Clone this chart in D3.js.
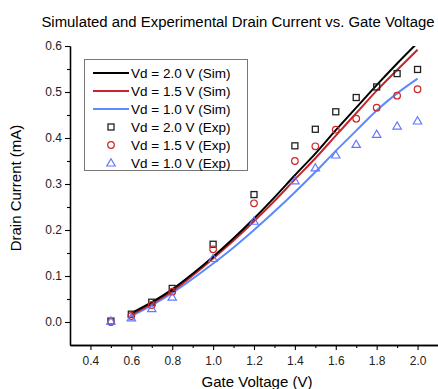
<!DOCTYPE html>
<html>
<head>
<meta charset="utf-8">
<script src="https://cdn.jsdelivr.net/npm/d3@7"></script>
<style>
  body { margin: 0; background: #fff; }
  svg { font-family: "Liberation Sans", Arial, sans-serif; }
</style>
</head>
<body>
<svg id="chart" width="438" height="389"></svg>
<script>
// simulated curves (Vg from 0.6 to 2.0)
const simVg = [0.6, 0.7, 0.8, 0.9, 1.0, 1.1, 1.2, 1.3, 1.4, 1.5, 1.6, 1.7, 1.8, 1.9, 2.0];
const sim20 = [0.019, 0.043, 0.071, 0.105, 0.142, 0.182, 0.225, 0.271, 0.319, 0.366, 0.417, 0.466, 0.515, 0.562, 0.607];
const sim15 = [0.016, 0.040, 0.067, 0.101, 0.138, 0.177, 0.219, 0.263, 0.310, 0.356, 0.405, 0.454, 0.503, 0.548, 0.592];
const sim10 = [0.013, 0.036, 0.063, 0.094, 0.127, 0.162, 0.200, 0.240, 0.282, 0.326, 0.372, 0.416, 0.460, 0.497, 0.529];

// measured points
const expVg = [0.5, 0.6, 0.7, 0.8, 1.0, 1.2, 1.4, 1.5, 1.6, 1.7, 1.8, 1.9, 2.0];
const exp20 = [0.002, 0.017, 0.043, 0.073, 0.169, 0.277, 0.383, 0.419, 0.457, 0.488, 0.511, 0.540, 0.549];
const exp15 = [0.000, 0.013, 0.037, 0.066, 0.158, 0.258, 0.350, 0.382, 0.418, 0.442, 0.466, 0.492, 0.506];
const exp10 = [0.002, 0.009, 0.029, 0.054, 0.138, 0.219, 0.307, 0.335, 0.363, 0.386, 0.408, 0.426, 0.437];

const xTicks = [0.4, 0.6, 0.8, 1.0, 1.2, 1.4, 1.6, 1.8, 2.0];
const yTicks = [0.0, 0.1, 0.2, 0.3, 0.4, 0.5, 0.6];

const simSeries = [
  { name: "Vd = 2.0 V (Sim)", values: sim20, color: "#000000" },
  { name: "Vd = 1.5 V (Sim)", values: sim15, color: "#c3262b" },
  { name: "Vd = 1.0 V (Sim)", values: sim10, color: "#5a8cff" }
];
const expSeries = [
  { name: "Vd = 2.0 V (Exp)", values: exp20, color: "#222222", shape: "square" },
  { name: "Vd = 1.5 V (Exp)", values: exp15, color: "#cc2a2a", shape: "circle" },
  { name: "Vd = 1.0 V (Exp)", values: exp10, color: "#6677ff", shape: "triangle" }
];

const svg = d3.select("#chart");

const x = d3.scaleLinear().domain([0.3, 2.1]).range([70, 438]);
const y = d3.scaleLinear().domain([-0.05, 0.6]).range([345, 46]);

// title
svg.append("text")
  .attr("x", 238)
  .attr("y", 27)
  .attr("text-anchor", "middle")
  .style("font-size", "14.9px")
  .text("Simulated and Experimental Drain Current vs. Gate Voltage");

// clip for lines
svg.append("clipPath").attr("id", "plotclip")
  .append("rect")
  .attr("x", 70).attr("y", 46)
  .attr("width", 368).attr("height", 299);

// axes
const xAxis = svg.append("g")
  .attr("transform", "translate(0,345)")
  .call(d3.axisBottom(x).tickValues(xTicks).tickFormat(d3.format(".1f")).tickSize(5).tickSizeOuter(0));
svg.append("g")
  .attr("transform", "translate(0,345)")
  .call(d3.axisBottom(x).tickValues([0.5, 0.7, 0.9, 1.1, 1.3, 1.5, 1.7, 1.9]).tickFormat("").tickSize(3).tickSizeOuter(0));

const yAxis = svg.append("g")
  .attr("transform", "translate(70,0)")
  .call(d3.axisLeft(y).tickValues(yTicks).tickFormat(d3.format(".1f")).tickSize(5).tickSizeOuter(0));
svg.append("g")
  .attr("transform", "translate(70,0)")
  .call(d3.axisLeft(y).tickValues([0.05, 0.15, 0.25, 0.35, 0.45, 0.55]).tickFormat("").tickSize(3).tickSizeOuter(0));

svg.selectAll(".domain").attr("stroke", "#000").attr("stroke-width", 1.3);
svg.selectAll(".tick line").attr("stroke", "#000").attr("stroke-width", 1.1);
svg.selectAll(".tick text").style("font-size", "12px").style("font-family", "Liberation Sans, Arial, sans-serif").attr("fill", "#222");
xAxis.selectAll(".tick text").attr("dy", "1.0em");
yAxis.selectAll(".tick text").attr("x", -8);

// axis titles
svg.append("text")
  .attr("x", 257)
  .attr("y", 387)
  .attr("text-anchor", "middle")
  .style("font-size", "15px")
  .text("Gate Voltage (V)");

svg.append("text")
  .attr("transform", "translate(21,188) rotate(-90)")
  .attr("text-anchor", "middle")
  .style("font-size", "15px")
  .text("Drain Current (mA)");

// simulated lines
const line = d3.line()
  .x((d, i) => x(simVg[i]))
  .y(d => y(d))
  .curve(d3.curveMonotoneX);

svg.append("g").attr("clip-path", "url(#plotclip)")
  .selectAll("path")
  .data(simSeries.slice().reverse())
  .enter()
  .append("path")
  .attr("fill", "none")
  .attr("stroke", d => d.color)
  .attr("stroke-width", 2)
  .attr("d", d => line(d.values));

// marker drawing
function drawMarker(g, shape, color) {
  if (shape === "square") {
    g.append("rect").attr("x", -3).attr("y", -3).attr("width", 6).attr("height", 6)
      .attr("fill", "none").attr("stroke", color).attr("stroke-width", 1.3);
  } else if (shape === "circle") {
    g.append("circle").attr("r", 3.3)
      .attr("fill", "none").attr("stroke", color).attr("stroke-width", 1.2);
  } else {
    g.append("path").attr("d", "M0,-4.2L4.2,3L-4.2,3Z")
      .attr("fill", "none").attr("stroke", color).attr("stroke-width", 1.2);
  }
}

expSeries.forEach(s => {
  s.values.forEach((v, i) => {
    const g = svg.append("g").attr("transform", `translate(${x(expVg[i])},${y(v)})`);
    drawMarker(g, s.shape, s.color);
  });
});

// legend
const legend = svg.append("g");
legend.append("rect")
  .attr("x", 84.5).attr("y", 59.5)
  .attr("width", 163).attr("height", 111)
  .attr("fill", "#fff")
  .attr("stroke", "#777")
  .attr("stroke-width", 1);

simSeries.forEach((s, i) => {
  const yy = 73 + i * 18;
  legend.append("line")
    .attr("x1", 93).attr("x2", 129)
    .attr("y1", yy).attr("y2", yy)
    .attr("stroke", s.color).attr("stroke-width", 2);
  legend.append("text")
    .attr("x", 131).attr("y", yy + 5)
    .style("font-size", "13.5px")
    .text(s.name);
});
expSeries.forEach((s, i) => {
  const yy = 127 + i * 18;
  const g = legend.append("g").attr("transform", `translate(111,${yy})`);
  drawMarker(g, s.shape, s.color);
  legend.append("text")
    .attr("x", 131).attr("y", yy + 5)
    .style("font-size", "13.5px")
    .text(s.name);
});
</script>
</body>
</html>
